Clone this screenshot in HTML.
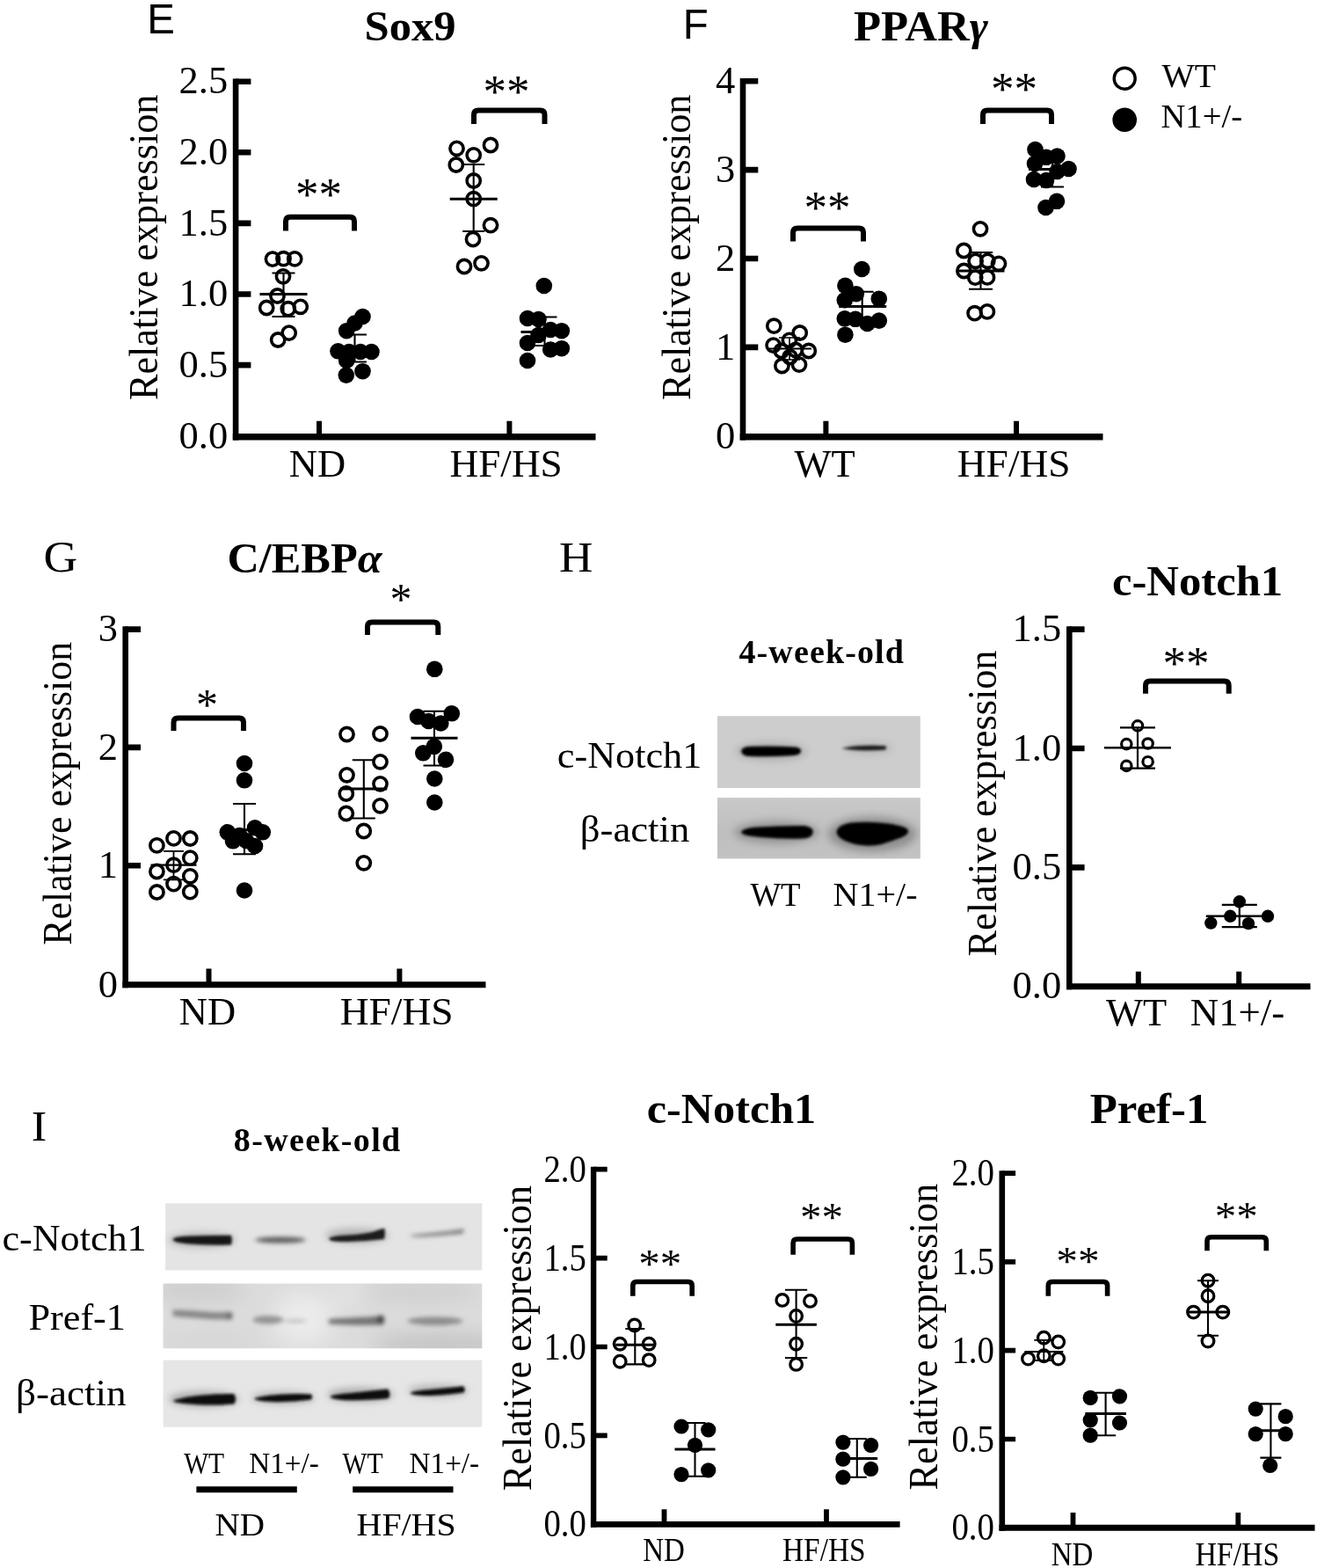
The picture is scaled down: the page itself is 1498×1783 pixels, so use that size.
<!DOCTYPE html>
<html lang="en"><head><meta charset="utf-8"><title>Figure panels E-I</title>
<style>html,body{margin:0;padding:0;background:#fff}svg{display:block}</style></head><body>
<svg width="1498" height="1783" viewBox="0 0 1498 1783">
<defs>
<filter id="b1" x="-20%" y="-80%" width="140%" height="260%"><feGaussianBlur stdDeviation="1.6"/></filter>
<filter id="b2" x="-20%" y="-80%" width="140%" height="260%"><feGaussianBlur stdDeviation="2.6"/></filter>
<filter id="b3" x="-20%" y="-80%" width="140%" height="260%"><feGaussianBlur stdDeviation="4"/></filter>
<filter id="b9" x="-20%" y="-20%" width="140%" height="140%"><feGaussianBlur stdDeviation="12"/></filter>
<linearGradient id="g1" x1="0" y1="0" x2="0" y2="1"><stop offset="0" stop-color="#cbcbcb"/><stop offset="1" stop-color="#c4c4c4"/></linearGradient>
<linearGradient id="g2" x1="0" y1="0" x2="0" y2="1"><stop offset="0" stop-color="#c9c9c9"/><stop offset="0.55" stop-color="#bfbfbf"/><stop offset="1" stop-color="#c2c2c2"/></linearGradient>
<clipPath id="c2"><rect x="185.6" y="1459.6" width="362.7" height="73.6"/></clipPath>
<clipPath id="c1"><rect x="188" y="1369" width="360" height="75"/></clipPath>
<clipPath id="c3"><rect x="186" y="1547" width="362" height="75.5"/></clipPath>
<clipPath id="ch"><rect x="816" y="814.2" width="230.8" height="162.2"/></clipPath>
</defs>
<rect width="1498" height="1783" fill="#fff"/>
<g id="panelE">
<text x="167.3" y="37.6" font-family="'Liberation Sans', 'DejaVu Sans', sans-serif" font-size="49" text-anchor="start" textLength="31.6" lengthAdjust="spacingAndGlyphs" >E</text>
<text x="414.5" y="46.3" font-family="'Liberation Serif', 'DejaVu Serif', serif" font-size="49.3" text-anchor="start" font-weight="bold" textLength="104" lengthAdjust="spacingAndGlyphs" >Sox9</text>
<path d="M268.1 89.4V500.5" fill="none" stroke="#000" stroke-width="6.6"/>
<path d="M264.8 496.8H677.5" fill="none" stroke="#000" stroke-width="7.4"/>
<path d="M268.1 415.1h17.3M268.1 334.5h17.3M268.1 253.9h17.3M268.1 173.3h17.3M268.1 92.7h17.3" fill="none" stroke="#000" stroke-width="6.6"/>
<path d="M363 496.8v-18.1M579.4 496.8v-18.1" fill="none" stroke="#000" stroke-width="6.0"/>
<text x="259.2" y="510.2" font-family="'Liberation Serif', 'DejaVu Serif', serif" font-size="44.5" text-anchor="end" >0.0</text>
<text x="259.2" y="428.7" font-family="'Liberation Serif', 'DejaVu Serif', serif" font-size="44.5" text-anchor="end" >0.5</text>
<text x="259.2" y="348.1" font-family="'Liberation Serif', 'DejaVu Serif', serif" font-size="44.5" text-anchor="end" >1.0</text>
<text x="259.2" y="267.5" font-family="'Liberation Serif', 'DejaVu Serif', serif" font-size="44.5" text-anchor="end" >1.5</text>
<text x="259.2" y="186.9" font-family="'Liberation Serif', 'DejaVu Serif', serif" font-size="44.5" text-anchor="end" >2.0</text>
<text x="259.2" y="106.3" font-family="'Liberation Serif', 'DejaVu Serif', serif" font-size="44.5" text-anchor="end" >2.5</text>
<text transform="translate(178.6 281.3) rotate(-90)" font-family="'Liberation Serif', 'DejaVu Serif', serif" font-size="46" text-anchor="middle" textLength="347.5" lengthAdjust="spacingAndGlyphs">Relative expression</text>
<text x="361" y="541.5" font-family="'Liberation Serif', 'DejaVu Serif', serif" font-size="44.5" text-anchor="middle" >ND</text>
<text x="575.6" y="541.5" font-family="'Liberation Serif', 'DejaVu Serif', serif" font-size="44.5" text-anchor="middle" textLength="128.2" lengthAdjust="spacingAndGlyphs" >HF/HS</text>
<path d="M322.5 310.5V360M309.5 310.5H335.5M309.5 360H335.5" fill="none" stroke="#000" stroke-width="2.1"/>
<path d="M295.5 334.5H349.5" fill="none" stroke="#000" stroke-width="3"/>
<circle cx="310" cy="294.6" r="7.6" fill="none" stroke="#000" stroke-width="3.6"/>
<circle cx="322.5" cy="294.2" r="7.6" fill="none" stroke="#000" stroke-width="3.6"/>
<circle cx="335.2" cy="294.4" r="7.6" fill="none" stroke="#000" stroke-width="3.6"/>
<circle cx="322" cy="314.3" r="7.6" fill="none" stroke="#000" stroke-width="3.6"/>
<circle cx="315.5" cy="336.5" r="7.6" fill="none" stroke="#000" stroke-width="3.6"/>
<circle cx="303.2" cy="350" r="7.6" fill="none" stroke="#000" stroke-width="3.6"/>
<circle cx="327.8" cy="351.2" r="7.6" fill="none" stroke="#000" stroke-width="3.6"/>
<circle cx="341.8" cy="348.8" r="7.6" fill="none" stroke="#000" stroke-width="3.6"/>
<circle cx="328.7" cy="378.6" r="7.6" fill="none" stroke="#000" stroke-width="3.6"/>
<circle cx="316.2" cy="386.5" r="7.6" fill="none" stroke="#000" stroke-width="3.6"/>
<path d="M403.5 380.5V411.5M390.0 380.5H417.0M390.0 411.5H417.0" fill="none" stroke="#000" stroke-width="2.1"/>
<path d="M376.5 400H430.5" fill="none" stroke="#000" stroke-width="3"/>
<circle cx="412.5" cy="360" r="9.3" fill="#000"/>
<circle cx="403.5" cy="367.5" r="9.3" fill="#000"/>
<circle cx="394.2" cy="376.2" r="9.3" fill="#000"/>
<circle cx="384.5" cy="399.3" r="9.3" fill="#000"/>
<circle cx="397" cy="400" r="9.3" fill="#000"/>
<circle cx="410" cy="400" r="9.3" fill="#000"/>
<circle cx="422.5" cy="400" r="9.3" fill="#000"/>
<circle cx="394.2" cy="410" r="9.3" fill="#000"/>
<circle cx="412.5" cy="422.2" r="9.3" fill="#000"/>
<circle cx="393.8" cy="426.6" r="9.3" fill="#000"/>
<path d="M538.7 187V263M526.2 187H551.2M526.2 263H551.2" fill="none" stroke="#000" stroke-width="2.1"/>
<path d="M511.70000000000005 226.2H565.7" fill="none" stroke="#000" stroke-width="3"/>
<circle cx="519.5" cy="168.8" r="7.6" fill="none" stroke="#000" stroke-width="3.6"/>
<circle cx="538.7" cy="176.3" r="7.6" fill="none" stroke="#000" stroke-width="3.6"/>
<circle cx="558" cy="165" r="7.6" fill="none" stroke="#000" stroke-width="3.6"/>
<circle cx="518.8" cy="187.5" r="7.6" fill="none" stroke="#000" stroke-width="3.6"/>
<circle cx="538.7" cy="205.5" r="7.6" fill="none" stroke="#000" stroke-width="3.6"/>
<circle cx="538.7" cy="226.2" r="7.6" fill="none" stroke="#000" stroke-width="3.6"/>
<circle cx="558" cy="256.2" r="7.6" fill="none" stroke="#000" stroke-width="3.6"/>
<circle cx="538" cy="272" r="7.6" fill="none" stroke="#000" stroke-width="3.6"/>
<circle cx="528" cy="303" r="7.6" fill="none" stroke="#000" stroke-width="3.6"/>
<circle cx="547.5" cy="299.3" r="7.6" fill="none" stroke="#000" stroke-width="3.6"/>
<path d="M619.5 360.5V393M605.5 360.5H633.5M605.5 393H633.5" fill="none" stroke="#000" stroke-width="2.1"/>
<path d="M592.5 377.5H646.5" fill="none" stroke="#000" stroke-width="3"/>
<circle cx="618.8" cy="325" r="9.3" fill="#000"/>
<circle cx="600" cy="362" r="9.3" fill="#000"/>
<circle cx="612.5" cy="363" r="9.3" fill="#000"/>
<circle cx="626.2" cy="375" r="9.3" fill="#000"/>
<circle cx="638.8" cy="376.2" r="9.3" fill="#000"/>
<circle cx="612.5" cy="381" r="9.3" fill="#000"/>
<circle cx="600" cy="390" r="9.3" fill="#000"/>
<circle cx="626.2" cy="397.5" r="9.3" fill="#000"/>
<circle cx="638.8" cy="396.2" r="9.3" fill="#000"/>
<circle cx="600" cy="410" r="9.3" fill="#000"/>
<path d="M325.0 262.6V251.8Q325.0 246.8 330.0 246.8H398.0Q403.0 246.8 403.0 251.8V262.6" fill="none" stroke="#000" stroke-width="6"/>
<text x="362.6" y="238.8" font-family="'Liberation Serif', 'DejaVu Serif', serif" font-size="53" text-anchor="middle" >**</text>
<path d="M539.0 141V130.6Q539.0 125.6 544.0 125.6H614.5Q619.5 125.6 619.5 130.6V141" fill="none" stroke="#000" stroke-width="6"/>
<text x="576" y="121.8" font-family="'Liberation Serif', 'DejaVu Serif', serif" font-size="53" text-anchor="middle" >**</text>
</g>
<g id="panelF">
<text x="776.8" y="43.9" font-family="'Liberation Sans', 'DejaVu Sans', sans-serif" font-size="49" text-anchor="start" textLength="29" lengthAdjust="spacingAndGlyphs" >F</text>
<text x="971" y="46.3" font-family="'Liberation Serif', 'DejaVu Serif', serif" font-size="49.3" font-weight="bold" textLength="153" lengthAdjust="spacingAndGlyphs">PPAR<tspan font-style="italic">γ</tspan></text>
<path d="M845 89.0V500.5" fill="none" stroke="#000" stroke-width="6.6"/>
<path d="M841.7 496.8H1254.5" fill="none" stroke="#000" stroke-width="7.4"/>
<path d="M845 394.85h17.3M845 294.0h17.3M845 193.15h17.3M845 92.3h17.3" fill="none" stroke="#000" stroke-width="6.6"/>
<path d="M939.4 496.8v-18.1M1156 496.8v-18.1" fill="none" stroke="#000" stroke-width="6.0"/>
<text x="836.3" y="510.2" font-family="'Liberation Serif', 'DejaVu Serif', serif" font-size="44.5" text-anchor="end" >0</text>
<text x="836.3" y="408.5" font-family="'Liberation Serif', 'DejaVu Serif', serif" font-size="44.5" text-anchor="end" >1</text>
<text x="836.3" y="307.6" font-family="'Liberation Serif', 'DejaVu Serif', serif" font-size="44.5" text-anchor="end" >2</text>
<text x="836.3" y="206.8" font-family="'Liberation Serif', 'DejaVu Serif', serif" font-size="44.5" text-anchor="end" >3</text>
<text x="836.3" y="105.9" font-family="'Liberation Serif', 'DejaVu Serif', serif" font-size="44.5" text-anchor="end" >4</text>
<text transform="translate(785 281.3) rotate(-90)" font-family="'Liberation Serif', 'DejaVu Serif', serif" font-size="46" text-anchor="middle" textLength="347.5" lengthAdjust="spacingAndGlyphs">Relative expression</text>
<text x="938" y="541.5" font-family="'Liberation Serif', 'DejaVu Serif', serif" font-size="44.5" text-anchor="middle" >WT</text>
<text x="1153.2" y="541.5" font-family="'Liberation Serif', 'DejaVu Serif', serif" font-size="44.5" text-anchor="middle" textLength="128.8" lengthAdjust="spacingAndGlyphs" >HF/HS</text>
<path d="M898 384V409M886 384H910M886 409H910" fill="none" stroke="#000" stroke-width="1.6"/>
<path d="M873 396.5H923" fill="none" stroke="#000" stroke-width="2"/>
<circle cx="880.3" cy="370.7" r="7.6" fill="none" stroke="#000" stroke-width="3.6"/>
<circle cx="909.7" cy="378.5" r="7.6" fill="none" stroke="#000" stroke-width="3.6"/>
<circle cx="897.9" cy="386.8" r="7.6" fill="none" stroke="#000" stroke-width="3.6"/>
<circle cx="879.6" cy="392.6" r="7.6" fill="none" stroke="#000" stroke-width="3.6"/>
<circle cx="888.8" cy="399" r="7.6" fill="none" stroke="#000" stroke-width="3.6"/>
<circle cx="904.9" cy="398" r="7.6" fill="none" stroke="#000" stroke-width="3.6"/>
<circle cx="919.8" cy="399" r="7.6" fill="none" stroke="#000" stroke-width="3.6"/>
<circle cx="898.5" cy="406" r="7.6" fill="none" stroke="#000" stroke-width="3.6"/>
<circle cx="889.4" cy="416" r="7.6" fill="none" stroke="#000" stroke-width="3.6"/>
<circle cx="909" cy="414.6" r="7.6" fill="none" stroke="#000" stroke-width="3.6"/>
<path d="M980.7 331.7V365.5M967.7 331.7H993.7M967.7 365.5H993.7" fill="none" stroke="#000" stroke-width="2.1"/>
<path d="M954.2 348.4H1008.2" fill="none" stroke="#000" stroke-width="3"/>
<circle cx="980.3" cy="306" r="9.3" fill="#000"/>
<circle cx="961.4" cy="324.8" r="9.3" fill="#000"/>
<circle cx="973.8" cy="334.2" r="9.3" fill="#000"/>
<circle cx="960.8" cy="341.3" r="9.3" fill="#000"/>
<circle cx="999.8" cy="339.7" r="9.3" fill="#000"/>
<circle cx="960.8" cy="362.4" r="9.3" fill="#000"/>
<circle cx="973" cy="362.8" r="9.3" fill="#000"/>
<circle cx="999.8" cy="364.6" r="9.3" fill="#000"/>
<circle cx="986.5" cy="368" r="9.3" fill="#000"/>
<circle cx="961.4" cy="380.7" r="9.3" fill="#000"/>
<path d="M1115.5 287V328.8M1102.0 287H1129.0M1102.0 328.8H1129.0" fill="none" stroke="#000" stroke-width="2.1"/>
<path d="M1088.5 308H1142.5" fill="none" stroke="#000" stroke-width="3"/>
<circle cx="1115" cy="260.3" r="7.6" fill="none" stroke="#000" stroke-width="3.6"/>
<circle cx="1096.3" cy="285" r="7.6" fill="none" stroke="#000" stroke-width="3.6"/>
<circle cx="1109.6" cy="296.8" r="7.6" fill="none" stroke="#000" stroke-width="3.6"/>
<circle cx="1123.3" cy="296.8" r="7.6" fill="none" stroke="#000" stroke-width="3.6"/>
<circle cx="1136" cy="299.8" r="7.6" fill="none" stroke="#000" stroke-width="3.6"/>
<circle cx="1096.4" cy="308" r="7.6" fill="none" stroke="#000" stroke-width="3.6"/>
<circle cx="1109.2" cy="315.6" r="7.6" fill="none" stroke="#000" stroke-width="3.6"/>
<circle cx="1123" cy="315.4" r="7.6" fill="none" stroke="#000" stroke-width="3.6"/>
<circle cx="1108.6" cy="356.2" r="7.6" fill="none" stroke="#000" stroke-width="3.6"/>
<circle cx="1122.9" cy="354.4" r="7.6" fill="none" stroke="#000" stroke-width="3.6"/>
<path d="M1197 172.5V212.5M1184 172.5H1210M1184 212.5H1210" fill="none" stroke="#000" stroke-width="2.1"/>
<path d="M1170 192.5H1224" fill="none" stroke="#000" stroke-width="3"/>
<circle cx="1177.5" cy="170" r="9.3" fill="#000"/>
<circle cx="1190" cy="178.8" r="9.3" fill="#000"/>
<circle cx="1202.5" cy="177.5" r="9.3" fill="#000"/>
<circle cx="1177" cy="186" r="9.3" fill="#000"/>
<circle cx="1215.5" cy="192" r="9.3" fill="#000"/>
<circle cx="1202.5" cy="195" r="9.3" fill="#000"/>
<circle cx="1176" cy="204" r="9.3" fill="#000"/>
<circle cx="1190" cy="205" r="9.3" fill="#000"/>
<circle cx="1202" cy="228.8" r="9.3" fill="#000"/>
<circle cx="1189.5" cy="236" r="9.3" fill="#000"/>
<path d="M902.0 274.5V264.5Q902.0 259.5 907.0 259.5H977.0Q982.0 259.5 982.0 264.5V274.5" fill="none" stroke="#000" stroke-width="6"/>
<text x="941" y="254.3" font-family="'Liberation Serif', 'DejaVu Serif', serif" font-size="53" text-anchor="middle" >**</text>
<path d="M1118.0 141V130.6Q1118.0 125.6 1123.0 125.6H1191.0Q1196.0 125.6 1196.0 130.6V141" fill="none" stroke="#000" stroke-width="6"/>
<text x="1153.5" y="119.3" font-family="'Liberation Serif', 'DejaVu Serif', serif" font-size="53" text-anchor="middle" >**</text>
<circle cx="1279.2" cy="89.2" r="12" fill="none" stroke="#000" stroke-width="3.4"/>
<circle cx="1279.2" cy="136.3" r="13.8" fill="#000"/>
<text x="1321.5" y="98.8" font-family="'Liberation Serif', 'DejaVu Serif', serif" font-size="38" text-anchor="start" textLength="61.5" lengthAdjust="spacingAndGlyphs" >WT</text>
<text x="1320.5" y="145.2" font-family="'Liberation Serif', 'DejaVu Serif', serif" font-size="38" text-anchor="start" textLength="92.5" lengthAdjust="spacingAndGlyphs" >N1+/-</text>
</g>
<g id="panelG">
<text x="49.5" y="650" font-family="'Liberation Serif', 'DejaVu Serif', serif" font-size="50" text-anchor="start" textLength="38.8" lengthAdjust="spacingAndGlyphs" >G</text>
<text x="258.5" y="651" font-family="'Liberation Serif', 'DejaVu Serif', serif" font-size="49.3" font-weight="bold" textLength="176" lengthAdjust="spacingAndGlyphs">C/EBP<tspan font-style="italic">α</tspan></text>
<path d="M142.7 712.3V1123.2" fill="none" stroke="#000" stroke-width="6.6"/>
<path d="M139.4 1119.7H552.5" fill="none" stroke="#000" stroke-width="7.0"/>
<path d="M142.7 984.2h17.3M142.7 849.9h17.3M142.7 715.6h17.3" fill="none" stroke="#000" stroke-width="6.6"/>
<path d="M237.5 1119.7v-18.2M454.4 1119.7v-18.2" fill="none" stroke="#000" stroke-width="6.0"/>
<text x="134" y="1133.7" font-family="'Liberation Serif', 'DejaVu Serif', serif" font-size="44.5" text-anchor="end" >0</text>
<text x="134" y="997.8" font-family="'Liberation Serif', 'DejaVu Serif', serif" font-size="44.5" text-anchor="end" >1</text>
<text x="134" y="863.5" font-family="'Liberation Serif', 'DejaVu Serif', serif" font-size="44.5" text-anchor="end" >2</text>
<text x="134" y="729.2" font-family="'Liberation Serif', 'DejaVu Serif', serif" font-size="44.5" text-anchor="end" >3</text>
<text transform="translate(81 902.3) rotate(-90)" font-family="'Liberation Serif', 'DejaVu Serif', serif" font-size="46" text-anchor="middle" textLength="345" lengthAdjust="spacingAndGlyphs">Relative expression</text>
<text x="236" y="1165" font-family="'Liberation Serif', 'DejaVu Serif', serif" font-size="44.5" text-anchor="middle" >ND</text>
<text x="451.2" y="1165" font-family="'Liberation Serif', 'DejaVu Serif', serif" font-size="44.5" text-anchor="middle" textLength="129" lengthAdjust="spacingAndGlyphs" >HF/HS</text>
<path d="M197.5 967.8V1000.4M186.0 967.8H209.0M186.0 1000.4H209.0" fill="none" stroke="#000" stroke-width="1.8"/>
<path d="M171.5 983.7H223.5" fill="none" stroke="#000" stroke-width="2.2"/>
<circle cx="197.5" cy="953.4" r="7.6" fill="none" stroke="#000" stroke-width="3.6"/>
<circle cx="216.3" cy="953.5" r="7.6" fill="none" stroke="#000" stroke-width="3.6"/>
<circle cx="178.4" cy="961.4" r="7.6" fill="none" stroke="#000" stroke-width="3.6"/>
<circle cx="216.3" cy="975.6" r="7.6" fill="none" stroke="#000" stroke-width="3.6"/>
<circle cx="197.5" cy="983.7" r="7.6" fill="none" stroke="#000" stroke-width="3.6"/>
<circle cx="178.4" cy="991" r="7.6" fill="none" stroke="#000" stroke-width="3.6"/>
<circle cx="216.3" cy="996.3" r="7.6" fill="none" stroke="#000" stroke-width="3.6"/>
<circle cx="197.5" cy="1005.1" r="7.6" fill="none" stroke="#000" stroke-width="3.6"/>
<circle cx="178.4" cy="1014.5" r="7.6" fill="none" stroke="#000" stroke-width="3.6"/>
<circle cx="216.3" cy="1014.1" r="7.6" fill="none" stroke="#000" stroke-width="3.6"/>
<path d="M278 914V971.3M265 914H291M265 971.3H291" fill="none" stroke="#000" stroke-width="2.1"/>
<path d="M251 943.8H305" fill="none" stroke="#000" stroke-width="3"/>
<circle cx="278" cy="868" r="9.3" fill="#000"/>
<circle cx="278" cy="887.3" r="9.3" fill="#000"/>
<circle cx="258.8" cy="946.3" r="9.3" fill="#000"/>
<circle cx="265" cy="956.3" r="9.3" fill="#000"/>
<circle cx="272.5" cy="950" r="9.3" fill="#000"/>
<circle cx="280" cy="956" r="9.3" fill="#000"/>
<circle cx="290" cy="941.3" r="9.3" fill="#000"/>
<circle cx="298.8" cy="946.3" r="9.3" fill="#000"/>
<circle cx="290" cy="962" r="9.3" fill="#000"/>
<circle cx="278" cy="1012.5" r="9.3" fill="#000"/>
<path d="M413.8 864.3V930.5M400.8 864.3H426.8M400.8 930.5H426.8" fill="none" stroke="#000" stroke-width="2.1"/>
<path d="M387.3 897H440.3" fill="none" stroke="#000" stroke-width="3"/>
<circle cx="394.5" cy="835" r="7.6" fill="none" stroke="#000" stroke-width="3.6"/>
<circle cx="432.5" cy="834.5" r="7.6" fill="none" stroke="#000" stroke-width="3.6"/>
<circle cx="432.5" cy="866.3" r="7.6" fill="none" stroke="#000" stroke-width="3.6"/>
<circle cx="394.5" cy="881.3" r="7.6" fill="none" stroke="#000" stroke-width="3.6"/>
<circle cx="432.5" cy="891.3" r="7.6" fill="none" stroke="#000" stroke-width="3.6"/>
<circle cx="393.8" cy="902.5" r="7.6" fill="none" stroke="#000" stroke-width="3.6"/>
<circle cx="432.5" cy="916.3" r="7.6" fill="none" stroke="#000" stroke-width="3.6"/>
<circle cx="393.8" cy="925" r="7.6" fill="none" stroke="#000" stroke-width="3.6"/>
<circle cx="413.8" cy="945" r="7.6" fill="none" stroke="#000" stroke-width="3.6"/>
<circle cx="413.8" cy="981.3" r="7.6" fill="none" stroke="#000" stroke-width="3.6"/>
<path d="M494 808.8V870.5M481.5 808.8H506.5M481.5 870.5H506.5" fill="none" stroke="#000" stroke-width="2.1"/>
<path d="M467.5 839.3H520.5" fill="none" stroke="#000" stroke-width="3"/>
<circle cx="494.3" cy="760.8" r="9.3" fill="#000"/>
<circle cx="513.8" cy="811.3" r="9.3" fill="#000"/>
<circle cx="475" cy="815" r="9.3" fill="#000"/>
<circle cx="487.5" cy="820" r="9.3" fill="#000"/>
<circle cx="501.3" cy="822.5" r="9.3" fill="#000"/>
<circle cx="493.8" cy="848.8" r="9.3" fill="#000"/>
<circle cx="481.3" cy="856.3" r="9.3" fill="#000"/>
<circle cx="507" cy="863.8" r="9.3" fill="#000"/>
<circle cx="494.3" cy="885.5" r="9.3" fill="#000"/>
<circle cx="494.3" cy="912.5" r="9.3" fill="#000"/>
<path d="M197.5 831V821.4Q197.5 816.4 202.5 816.4H272.0Q277.0 816.4 277.0 821.4V831" fill="none" stroke="#000" stroke-width="6"/>
<text x="235.6" y="818.4" font-family="'Liberation Serif', 'DejaVu Serif', serif" font-size="50" text-anchor="middle" >*</text>
<path d="M418.0 722V712.6Q418.0 707.6 423.0 707.6H493.3Q498.3 707.6 498.3 712.6V722" fill="none" stroke="#000" stroke-width="6"/>
<text x="456" y="698.4" font-family="'Liberation Serif', 'DejaVu Serif', serif" font-size="50" text-anchor="middle" >*</text>
</g>
<g id="panelH">
<text x="636" y="650.3" font-family="'Liberation Serif', 'DejaVu Serif', serif" font-size="48.5" text-anchor="start" textLength="38.4" lengthAdjust="spacingAndGlyphs" >H</text>
<text x="840.4" y="753.5" font-family="'Liberation Serif', 'DejaVu Serif', serif" font-size="38" text-anchor="start" font-weight="bold" textLength="187.5" lengthAdjust="spacing" >4-week-old</text>
<rect x="816" y="814.2" width="230.8" height="81.8" fill="#cdcdcd"/>
<rect x="816" y="907.1" width="230.8" height="69.3" fill="url(#g2)"/>
<g clip-path="url(#ch)">
<g filter="url(#b3)" opacity="0.38">
<ellipse cx="883" cy="946.5" rx="48" ry="13" fill="#555"/>
<ellipse cx="992" cy="948.5" rx="50" ry="20" fill="#444"/>
<ellipse cx="877" cy="854.5" rx="40" ry="10" fill="#777"/>
<ellipse cx="988" cy="850.5" rx="26" ry="6" fill="#888"/>
</g>
<g filter="url(#b1)">
<path d="M843 854 Q844 848.6 856 848.8 Q880 848 905 849.6 Q911.5 850.5 911 854.5 Q910 859 900 859.2 Q875 861 852 860 Q843.5 859.5 843 854Z" fill="#040404"/>
<path d="M957 851 Q966 849 975 848.2 Q992 847.4 1007 848.2 Q1009 850 1007 852.6 Q992 853.8 975 853 Q966 852.6 957 851Z" fill="#161616"/>
<path d="M843 946.5 Q845 941.5 862 940.5 Q890 938.5 915 939 Q925 940.5 924.6 946 Q924.6 952.5 914 953.5 Q890 954.5 865 952 Q845 950.5 843 946.5Z" fill="#040404"/>
<path d="M951.5 946.5 Q952 938 968 935.5 Q990 933.6 1010 936.5 Q1030 939 1033 944 Q1034 949 1025 952.5 Q1012 957 1003 960 Q990 963 975 960.5 Q953 955.5 951.5 946.5Z" fill="#030303"/>
</g>
</g>
<text x="633.8" y="872.6" font-family="'Liberation Serif', 'DejaVu Serif', serif" font-size="43.2" text-anchor="start" textLength="164.5" lengthAdjust="spacingAndGlyphs" >c-Notch1</text>
<text x="659.8" y="956.8" font-family="'Liberation Serif', 'DejaVu Serif', serif" font-size="43.2" text-anchor="start" textLength="124.5" lengthAdjust="spacingAndGlyphs" >β-actin</text>
<text x="853.4" y="1029.8" font-family="'Liberation Serif', 'DejaVu Serif', serif" font-size="37.5" text-anchor="start" textLength="57.2" lengthAdjust="spacingAndGlyphs" >WT</text>
<text x="947.5" y="1029.8" font-family="'Liberation Serif', 'DejaVu Serif', serif" font-size="37.5" text-anchor="start" textLength="96" lengthAdjust="spacingAndGlyphs" >N1+/-</text>
<text x="1265" y="676.5" font-family="'Liberation Serif', 'DejaVu Serif', serif" font-size="49.3" text-anchor="start" font-weight="bold" textLength="194.2" lengthAdjust="spacingAndGlyphs" >c-Notch1</text>
<path d="M1216.3 712.3V1125.3" fill="none" stroke="#000" stroke-width="6.6"/>
<path d="M1213.0 1121.8H1490.5" fill="none" stroke="#000" stroke-width="7.0"/>
<path d="M1216.3 986.4h17.3M1216.3 851.0h17.3M1216.3 715.6h17.3" fill="none" stroke="#000" stroke-width="6.6"/>
<path d="M1294.8 1121.8v-17M1409.2 1121.8v-17" fill="none" stroke="#000" stroke-width="6.0"/>
<text x="1207.2" y="1135.4" font-family="'Liberation Serif', 'DejaVu Serif', serif" font-size="44.5" text-anchor="end" >0.0</text>
<text x="1207.2" y="1000.0" font-family="'Liberation Serif', 'DejaVu Serif', serif" font-size="44.5" text-anchor="end" >0.5</text>
<text x="1207.2" y="864.6" font-family="'Liberation Serif', 'DejaVu Serif', serif" font-size="44.5" text-anchor="end" >1.0</text>
<text x="1207.2" y="729.2" font-family="'Liberation Serif', 'DejaVu Serif', serif" font-size="44.5" text-anchor="end" >1.5</text>
<text transform="translate(1133.2 913.5) rotate(-90)" font-family="'Liberation Serif', 'DejaVu Serif', serif" font-size="46" text-anchor="middle" textLength="348" lengthAdjust="spacingAndGlyphs">Relative expression</text>
<text x="1292.5" y="1166" font-family="'Liberation Serif', 'DejaVu Serif', serif" font-size="44.5" text-anchor="middle" >WT</text>
<text x="1407.5" y="1166" font-family="'Liberation Serif', 'DejaVu Serif', serif" font-size="44.5" text-anchor="middle" textLength="107.5" lengthAdjust="spacingAndGlyphs" >N1+/-</text>
<path d="M1294 827.3V873.7M1274 827.3H1314M1274 873.7H1314" fill="none" stroke="#000" stroke-width="2.2"/>
<path d="M1256 850.2H1332" fill="none" stroke="#000" stroke-width="2.6"/>
<circle cx="1294" cy="825.4" r="5.7" fill="none" stroke="#000" stroke-width="3.2"/>
<circle cx="1281.3" cy="846.1" r="5.7" fill="none" stroke="#000" stroke-width="3.2"/>
<circle cx="1305.6" cy="845.5" r="5.7" fill="none" stroke="#000" stroke-width="3.2"/>
<circle cx="1281.3" cy="870.9" r="5.7" fill="none" stroke="#000" stroke-width="3.2"/>
<circle cx="1305.6" cy="866.2" r="5.7" fill="none" stroke="#000" stroke-width="3.2"/>
<path d="M1409.8 1028.9V1054.2M1389.8 1028.9H1429.8M1389.8 1054.2H1429.8" fill="none" stroke="#000" stroke-width="2.2"/>
<path d="M1371.8 1041.8H1447.8" fill="none" stroke="#000" stroke-width="2.6"/>
<circle cx="1409.8" cy="1025.3" r="7.2" fill="#000"/>
<circle cx="1399.3" cy="1041.8" r="7.2" fill="#000"/>
<circle cx="1442" cy="1041.8" r="7.2" fill="#000"/>
<circle cx="1377.3" cy="1049.6" r="7.2" fill="#000"/>
<circle cx="1420" cy="1050.1" r="7.2" fill="#000"/>
<path d="M1303.0 788.7V779.4Q1303.0 774.4 1308.0 774.4H1392.7Q1397.7 774.4 1397.7 779.4V788.7" fill="none" stroke="#000" stroke-width="6"/>
<text x="1349" y="771.5" font-family="'Liberation Serif', 'DejaVu Serif', serif" font-size="53" text-anchor="middle" >**</text>
</g>
<g id="panelI">
<text x="35.7" y="1296.8" font-family="'Liberation Serif', 'DejaVu Serif', serif" font-size="47.5" text-anchor="start" textLength="17.5" lengthAdjust="spacingAndGlyphs" >I</text>
<text x="265.8" y="1309" font-family="'Liberation Serif', 'DejaVu Serif', serif" font-size="38" text-anchor="start" font-weight="bold" textLength="189.4" lengthAdjust="spacing" >8-week-old</text>
<rect x="188.1" y="1368.3" width="360.2" height="76.1" fill="#e4e4e4"/>
<rect x="185.6" y="1459.6" width="362.7" height="73.6" fill="#dcdcdc"/>
<rect x="185.6" y="1546.6" width="362.7" height="76.1" fill="#e6e6e6"/>
<g clip-path="url(#c2)"><g filter="url(#b9)">
<ellipse cx="225" cy="1466" rx="55" ry="12" fill="#c6c6c6" opacity="0.8"/>
<ellipse cx="345" cy="1500" rx="34" ry="30" fill="#ededed" opacity="0.9"/>
<ellipse cx="480" cy="1468" rx="70" ry="12" fill="#cbcbcb" opacity="0.8"/>
<ellipse cx="500" cy="1530" rx="80" ry="12" fill="#bdbdbd" opacity="0.9"/>
<ellipse cx="240" cy="1528" rx="60" ry="9" fill="#d0d0d0" opacity="0.7"/>
<ellipse cx="395" cy="1472" rx="18" ry="10" fill="#e8e8e8" opacity="0.8"/>
</g></g>
<g filter="url(#b3)" opacity="0.4">
<ellipse cx="230" cy="1410" rx="38" ry="8" fill="#666"/><ellipse cx="406" cy="1405" rx="36" ry="8" fill="#666"/>
<ellipse cx="232" cy="1591" rx="40" ry="9" fill="#555"/><ellipse cx="322" cy="1589.5" rx="36" ry="7" fill="#666"/><ellipse cx="410" cy="1586" rx="38" ry="8" fill="#555"/><ellipse cx="498" cy="1581.5" rx="34" ry="7" fill="#666"/>
</g>
<g filter="url(#b1)">
<path d="M196.5 1409.5 Q198 1406 215 1405.6 Q245 1404.5 263 1404.8 Q264.5 1410 263 1415.6 Q240 1416.2 215 1414.4 Q197 1413 196.5 1409.5Z" fill="#171717"/>
<path d="M374 1408.5 Q376 1405.5 395 1404.6 Q418 1403 428 1399.5 Q434 1396.5 437.5 1397 Q438.5 1403 437 1409 Q415 1411.5 395 1412 Q375 1412.5 374 1408.5Z" fill="#1a1a1a"/>
<path d="M196.5 1593 Q205 1589.5 225 1587 Q250 1584.5 266 1585 Q270 1591 266 1596.5 Q245 1598.3 222 1597 Q200 1595.5 196.5 1593Z" fill="#0a0a0a"/>
<path d="M289 1590.5 Q295 1587.5 315 1586 Q340 1584.3 354 1585.5 Q356 1588.5 354 1591.5 Q335 1594 315 1594.2 Q293 1593.8 289 1590.5Z" fill="#0d0d0d"/>
<path d="M375.3 1588 Q380 1585.5 400 1584 Q425 1581.5 441 1579.6 Q445 1584.5 442 1590 Q425 1592 400 1592.3 Q378 1592 375.3 1588Z" fill="#0a0a0a"/>
<path d="M466.6 1584 Q470 1581.5 490 1580 Q512 1578 527 1576.3 Q530 1580 527.5 1583.5 Q510 1586 490 1587 Q468 1587.2 466.6 1584Z" fill="#0d0d0d"/>
</g>
<g filter="url(#b2)">
<ellipse cx="319" cy="1410" rx="29" ry="3.4" fill="#5c5c5c"/>
<path d="M465.5 1404.8 Q490 1402.5 512 1400 Q522 1398.5 527.5 1397.5 Q528 1400.5 526 1402.5 Q505 1404.5 485 1406 Q470 1407 465.5 1404.8Z" fill="#6e6e6e"/>
<path d="M196.5 1489.5 Q215 1489.5 240 1492 Q255 1492.5 264 1491.5 L264 1500.5 Q245 1500.8 225 1499 Q205 1497.5 196.5 1496.5Z" fill="#868686"/>
<ellipse cx="261" cy="1496.5" rx="3.2" ry="3" fill="#5e5e5e"/>
<ellipse cx="305" cy="1500.8" rx="17.5" ry="4.6" fill="#929292"/><ellipse cx="336" cy="1502" rx="13" ry="2.2" fill="#c2c2c2"/>
<path d="M374 1500 Q395 1498.5 420 1497.5 L436.5 1495.5 L436.5 1506.5 Q410 1507.5 374 1505.5Z" fill="#727272"/>
<ellipse cx="433" cy="1500.5" rx="4" ry="4.2" fill="#3c3c3c"/>
<ellipse cx="495" cy="1502.2" rx="31.5" ry="4.8" fill="#8c8c8c"/>
</g>
<text x="2.4" y="1421.5" font-family="'Liberation Serif', 'DejaVu Serif', serif" font-size="43.2" text-anchor="start" textLength="164.3" lengthAdjust="spacingAndGlyphs" >c-Notch1</text>
<text x="32.4" y="1511.7" font-family="'Liberation Serif', 'DejaVu Serif', serif" font-size="43.2" text-anchor="start" textLength="110.6" lengthAdjust="spacingAndGlyphs" >Pref-1</text>
<text x="18" y="1598" font-family="'Liberation Serif', 'DejaVu Serif', serif" font-size="43.2" text-anchor="start" textLength="125.6" lengthAdjust="spacingAndGlyphs" >β-actin</text>
<text x="209.2" y="1675" font-family="'Liberation Serif', 'DejaVu Serif', serif" font-size="34.5" text-anchor="start" textLength="46" lengthAdjust="spacingAndGlyphs" >WT</text>
<text x="283.3" y="1675" font-family="'Liberation Serif', 'DejaVu Serif', serif" font-size="34.5" text-anchor="start" textLength="79.5" lengthAdjust="spacingAndGlyphs" >N1+/-</text>
<text x="389.6" y="1675" font-family="'Liberation Serif', 'DejaVu Serif', serif" font-size="34.5" text-anchor="start" textLength="46" lengthAdjust="spacingAndGlyphs" >WT</text>
<text x="465.6" y="1675" font-family="'Liberation Serif', 'DejaVu Serif', serif" font-size="34.5" text-anchor="start" textLength="79.5" lengthAdjust="spacingAndGlyphs" >N1+/-</text>
<path d="M223.4 1693.7H337.8M401.2 1693.7H515.5" stroke="#000" stroke-width="7" fill="none"/>
<text x="244.4" y="1746" font-family="'Liberation Serif', 'DejaVu Serif', serif" font-size="36.5" text-anchor="start" textLength="56.5" lengthAdjust="spacingAndGlyphs" >ND</text>
<text x="405.6" y="1746" font-family="'Liberation Serif', 'DejaVu Serif', serif" font-size="36.5" text-anchor="start" textLength="113" lengthAdjust="spacingAndGlyphs" >HF/HS</text>
<text x="735.8" y="1277.1" font-family="'Liberation Serif', 'DejaVu Serif', serif" font-size="49.3" text-anchor="start" font-weight="bold" textLength="192.4" lengthAdjust="spacingAndGlyphs" >c-Notch1</text>
<path d="M675.1 1326.75V1736.8" fill="none" stroke="#000" stroke-width="6.4"/>
<path d="M671.9 1733.4H1023.6" fill="none" stroke="#000" stroke-width="6.8"/>
<path d="M675.1 1632.45h15.6M675.1 1531.5h15.6M675.1 1430.55h15.6M675.1 1329.6h15.6" fill="none" stroke="#000" stroke-width="5.7"/>
<path d="M755.5 1733.4v-17.2M940 1733.4v-17.2" fill="none" stroke="#000" stroke-width="5.8"/>
<text x="666.8" y="1747.4" font-family="'Liberation Serif', 'DejaVu Serif', serif" font-size="44.5" text-anchor="end" textLength="48.4" lengthAdjust="spacingAndGlyphs" >0.0</text>
<text x="666.8" y="1646.5" font-family="'Liberation Serif', 'DejaVu Serif', serif" font-size="44.5" text-anchor="end" textLength="48.4" lengthAdjust="spacingAndGlyphs" >0.5</text>
<text x="666.8" y="1545.5" font-family="'Liberation Serif', 'DejaVu Serif', serif" font-size="44.5" text-anchor="end" textLength="48.4" lengthAdjust="spacingAndGlyphs" >1.0</text>
<text x="666.8" y="1444.6" font-family="'Liberation Serif', 'DejaVu Serif', serif" font-size="44.5" text-anchor="end" textLength="48.4" lengthAdjust="spacingAndGlyphs" >1.5</text>
<text x="666.8" y="1343.6" font-family="'Liberation Serif', 'DejaVu Serif', serif" font-size="44.5" text-anchor="end" textLength="48.4" lengthAdjust="spacingAndGlyphs" >2.0</text>
<text transform="translate(603.6 1521.6) rotate(-90)" font-family="'Liberation Serif', 'DejaVu Serif', serif" font-size="46" text-anchor="middle" textLength="347.2" lengthAdjust="spacingAndGlyphs">Relative expression</text>
<text x="755" y="1775" font-family="'Liberation Serif', 'DejaVu Serif', serif" font-size="37" text-anchor="middle" textLength="47.6" lengthAdjust="spacingAndGlyphs" >ND</text>
<text x="937.3" y="1775" font-family="'Liberation Serif', 'DejaVu Serif', serif" font-size="37" text-anchor="middle" textLength="94.5" lengthAdjust="spacingAndGlyphs" >HF/HS</text>
<path d="M722.3 1511V1551.4M711.3 1511H733.3M711.3 1551.4H733.3" fill="none" stroke="#000" stroke-width="2.1"/>
<path d="M700.3 1529.2H744.3" fill="none" stroke="#000" stroke-width="3"/>
<circle cx="721.7" cy="1507" r="6.8" fill="none" stroke="#000" stroke-width="3.3"/>
<circle cx="705.2" cy="1528.2" r="6.8" fill="none" stroke="#000" stroke-width="3.3"/>
<circle cx="738.2" cy="1528.2" r="6.8" fill="none" stroke="#000" stroke-width="3.3"/>
<circle cx="705.2" cy="1548.2" r="6.8" fill="none" stroke="#000" stroke-width="3.3"/>
<circle cx="738.2" cy="1546.6" r="6.8" fill="none" stroke="#000" stroke-width="3.3"/>
<path d="M790.5 1618V1678.8M778.5 1618H802.5M778.5 1678.8H802.5" fill="none" stroke="#000" stroke-width="2.1"/>
<path d="M767.5 1648H813.5" fill="none" stroke="#000" stroke-width="3"/>
<circle cx="775" cy="1622" r="8.6" fill="#000"/>
<circle cx="805.7" cy="1625.9" r="8.6" fill="#000"/>
<circle cx="790.5" cy="1643.3" r="8.6" fill="#000"/>
<circle cx="775" cy="1676.6" r="8.6" fill="#000"/>
<circle cx="805.7" cy="1671.9" r="8.6" fill="#000"/>
<path d="M905.6 1466.7V1544M893.0 1466.7H918.2M893.0 1544H918.2" fill="none" stroke="#000" stroke-width="2.1"/>
<path d="M882.3000000000001 1506.3H928.9" fill="none" stroke="#000" stroke-width="3"/>
<circle cx="889.8" cy="1478.4" r="6.8" fill="none" stroke="#000" stroke-width="3.3"/>
<circle cx="921.5" cy="1479.4" r="6.8" fill="none" stroke="#000" stroke-width="3.3"/>
<circle cx="905.6" cy="1496.5" r="6.8" fill="none" stroke="#000" stroke-width="3.3"/>
<circle cx="905.6" cy="1528.2" r="6.8" fill="none" stroke="#000" stroke-width="3.3"/>
<circle cx="905.6" cy="1551.4" r="6.8" fill="none" stroke="#000" stroke-width="3.3"/>
<path d="M974.8 1636V1679.8M963.8 1636H985.8M963.8 1679.8H985.8" fill="none" stroke="#000" stroke-width="2.1"/>
<path d="M951.5 1658.5H998.0999999999999" fill="none" stroke="#000" stroke-width="3"/>
<circle cx="958.9" cy="1640.1" r="8.6" fill="#000"/>
<circle cx="990.6" cy="1643.3" r="8.6" fill="#000"/>
<circle cx="958.9" cy="1659.2" r="8.6" fill="#000"/>
<circle cx="990.6" cy="1670.3" r="8.6" fill="#000"/>
<circle cx="958.9" cy="1679.8" r="8.6" fill="#000"/>
<path d="M719.8 1473.7V1462.0Q719.8 1457.5 724.3 1457.5H782.7Q787.2 1457.5 787.2 1462.0V1473.7" fill="none" stroke="#000" stroke-width="5.6"/>
<text x="750.7" y="1452.8" font-family="'Liberation Serif', 'DejaVu Serif', serif" font-size="46" text-anchor="middle" textLength="49" lengthAdjust="spacingAndGlyphs" >**</text>
<path d="M902.0999999999999 1426.7V1413.5Q902.0999999999999 1409 906.5999999999999 1409H964.9000000000001Q969.4000000000001 1409 969.4000000000001 1413.5V1426.7" fill="none" stroke="#000" stroke-width="5.6"/>
<text x="934.6" y="1400.4" font-family="'Liberation Serif', 'DejaVu Serif', serif" font-size="46" text-anchor="middle" textLength="49" lengthAdjust="spacingAndGlyphs" >**</text>
<text x="1239.8" y="1277" font-family="'Liberation Serif', 'DejaVu Serif', serif" font-size="49.3" text-anchor="start" font-weight="bold" textLength="134.5" lengthAdjust="spacingAndGlyphs" >Pref-1</text>
<path d="M1139.8 1331.25V1740.75" fill="none" stroke="#000" stroke-width="6.6"/>
<path d="M1136.5 1737.3H1495.5" fill="none" stroke="#000" stroke-width="6.9"/>
<path d="M1139.8 1636.5h15.3M1139.8 1535.7h15.3M1139.8 1434.9h15.3M1139.8 1334.1h15.3" fill="none" stroke="#000" stroke-width="5.7"/>
<path d="M1220.5 1737.3v-17.2M1408.3 1737.3v-17.2" fill="none" stroke="#000" stroke-width="5.8"/>
<text x="1131" y="1751.3" font-family="'Liberation Serif', 'DejaVu Serif', serif" font-size="44.5" text-anchor="end" textLength="48.6" lengthAdjust="spacingAndGlyphs" >0.0</text>
<text x="1131" y="1650.5" font-family="'Liberation Serif', 'DejaVu Serif', serif" font-size="44.5" text-anchor="end" textLength="48.6" lengthAdjust="spacingAndGlyphs" >0.5</text>
<text x="1131" y="1549.7" font-family="'Liberation Serif', 'DejaVu Serif', serif" font-size="44.5" text-anchor="end" textLength="48.6" lengthAdjust="spacingAndGlyphs" >1.0</text>
<text x="1131" y="1448.9" font-family="'Liberation Serif', 'DejaVu Serif', serif" font-size="44.5" text-anchor="end" textLength="48.6" lengthAdjust="spacingAndGlyphs" >1.5</text>
<text x="1131" y="1348.1" font-family="'Liberation Serif', 'DejaVu Serif', serif" font-size="44.5" text-anchor="end" textLength="48.6" lengthAdjust="spacingAndGlyphs" >2.0</text>
<text transform="translate(1066.2 1520.1) rotate(-90)" font-family="'Liberation Serif', 'DejaVu Serif', serif" font-size="46" text-anchor="middle" textLength="348.8" lengthAdjust="spacingAndGlyphs">Relative expression</text>
<text x="1219.6" y="1779.7" font-family="'Liberation Serif', 'DejaVu Serif', serif" font-size="37" text-anchor="middle" textLength="47.6" lengthAdjust="spacingAndGlyphs" >ND</text>
<text x="1407.4" y="1779.7" font-family="'Liberation Serif', 'DejaVu Serif', serif" font-size="37" text-anchor="middle" textLength="96" lengthAdjust="spacingAndGlyphs" >HF/HS</text>
<path d="M1187.3 1523.8V1547M1176.3 1523.8H1198.3M1176.3 1547H1198.3" fill="none" stroke="#000" stroke-width="1.8"/>
<path d="M1165.3 1537.1H1209.3" fill="none" stroke="#000" stroke-width="2"/>
<circle cx="1187.3" cy="1521.2" r="6.8" fill="none" stroke="#000" stroke-width="3.3"/>
<circle cx="1203.7" cy="1526" r="6.8" fill="none" stroke="#000" stroke-width="3.3"/>
<circle cx="1169.5" cy="1545" r="6.8" fill="none" stroke="#000" stroke-width="3.3"/>
<circle cx="1187.3" cy="1541.8" r="6.8" fill="none" stroke="#000" stroke-width="3.3"/>
<circle cx="1203.7" cy="1545" r="6.8" fill="none" stroke="#000" stroke-width="3.3"/>
<path d="M1257.6 1583.7V1632.2M1246.1 1583.7H1269.1M1246.1 1632.2H1269.1" fill="none" stroke="#000" stroke-width="2.1"/>
<path d="M1234.3 1607.5H1280.8999999999999" fill="none" stroke="#000" stroke-width="3"/>
<circle cx="1240.2" cy="1589.4" r="8.6" fill="#000"/>
<circle cx="1273.5" cy="1587.8" r="8.6" fill="#000"/>
<circle cx="1240.2" cy="1614.8" r="8.6" fill="#000"/>
<circle cx="1273.5" cy="1618" r="8.6" fill="#000"/>
<circle cx="1240.2" cy="1632.2" r="8.6" fill="#000"/>
<path d="M1374 1456.2V1518.7M1362 1456.2H1386M1362 1518.7H1386" fill="none" stroke="#000" stroke-width="2.1"/>
<path d="M1350 1492H1398" fill="none" stroke="#000" stroke-width="3"/>
<circle cx="1374" cy="1456.2" r="6.8" fill="none" stroke="#000" stroke-width="3.3"/>
<circle cx="1374" cy="1473.7" r="6.8" fill="none" stroke="#000" stroke-width="3.3"/>
<circle cx="1357.5" cy="1492.1" r="6.8" fill="none" stroke="#000" stroke-width="3.3"/>
<circle cx="1390.8" cy="1492.1" r="6.8" fill="none" stroke="#000" stroke-width="3.3"/>
<circle cx="1374" cy="1525" r="6.8" fill="none" stroke="#000" stroke-width="3.3"/>
<path d="M1445.4 1596.4V1657.6M1433.4 1596.4H1457.4M1433.4 1657.6H1457.4" fill="none" stroke="#000" stroke-width="2.1"/>
<path d="M1421.7 1626.8H1469.1000000000001" fill="none" stroke="#000" stroke-width="3"/>
<circle cx="1428.2" cy="1602.1" r="8.6" fill="#000"/>
<circle cx="1462.2" cy="1610.7" r="8.6" fill="#000"/>
<circle cx="1428.2" cy="1630.6" r="8.6" fill="#000"/>
<circle cx="1462.2" cy="1630.6" r="8.6" fill="#000"/>
<circle cx="1444.7" cy="1666.5" r="8.6" fill="#000"/>
<path d="M1192.3 1473.7V1462.0Q1192.3 1457.5 1196.8 1457.5H1255.1000000000001Q1259.6000000000001 1457.5 1259.6000000000001 1462.0V1473.7" fill="none" stroke="#000" stroke-width="5.6"/>
<text x="1226" y="1449.6" font-family="'Liberation Serif', 'DejaVu Serif', serif" font-size="46" text-anchor="middle" textLength="49.5" lengthAdjust="spacingAndGlyphs" >**</text>
<path d="M1373.0 1422.3V1411.3Q1373.0 1406.8 1377.5 1406.8H1435.8Q1440.3 1406.8 1440.3 1411.3V1422.3" fill="none" stroke="#000" stroke-width="5.6"/>
<text x="1406.2" y="1398.8" font-family="'Liberation Serif', 'DejaVu Serif', serif" font-size="46" text-anchor="middle" textLength="49" lengthAdjust="spacingAndGlyphs" >**</text>
</g>
</svg></body></html>
